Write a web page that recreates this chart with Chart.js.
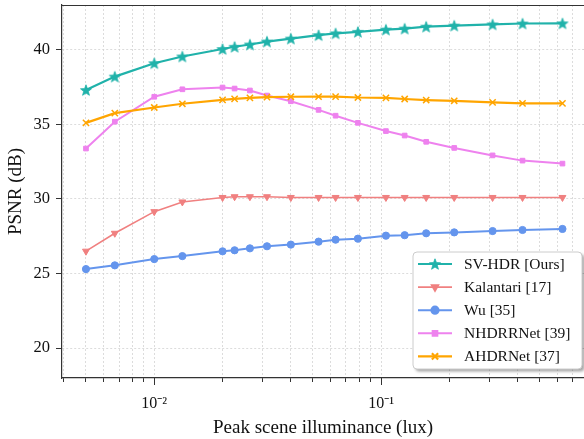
<!DOCTYPE html>
<html lang="en">
  <head>
    <meta charset="UTF-8" />
    <title>PSNR vs peak scene illuminance</title>
    <script src="https://cdn.jsdelivr.net/npm/chart.js"></script>
    <style>
      html, body { margin: 0; padding: 0; background: #fff; }
      canvas { display: block; }
    </style>
  </head>
  <body>
    <canvas id="psnrChart" width="584" height="439"></canvas>

    <script>
      // peak scene illuminance (lux), shared by all methods
      const illuminance = [0.005, 0.0067, 0.01, 0.0133, 0.02, 0.0226, 0.0264, 0.0314, 0.04, 0.053,
        0.063, 0.079, 0.105, 0.127, 0.158, 0.21, 0.31, 0.42, 0.63];

      // PSNR (dB) per method
      const svHdr = [37.3, 38.2, 39.1, 39.55, 40.05, 40.2, 40.35, 40.55, 40.75, 40.98,
        41.1, 41.2, 41.35, 41.42, 41.55, 41.62, 41.7, 41.76, 41.77];
      const kalantari = [26.5, 27.7, 29.15, 29.8, 30.1, 30.15, 30.15, 30.15, 30.1, 30.1,
        30.1, 30.1, 30.1, 30.1, 30.1, 30.1, 30.1, 30.1, 30.1];
      const wu = [25.3, 25.55, 25.97, 26.17, 26.49, 26.56, 26.69, 26.83, 26.94, 27.14,
        27.27, 27.34, 27.54, 27.57, 27.7, 27.76, 27.85, 27.92, 27.99];
      const nhdrrNet = [33.38, 35.18, 36.85, 37.35, 37.47, 37.4, 37.27, 36.93, 36.55, 35.97,
        35.58, 35.1, 34.55, 34.25, 33.83, 33.42, 32.92, 32.57, 32.37];
      const ahdrNet = [35.1, 35.75, 36.13, 36.38, 36.64, 36.71, 36.78, 36.82, 36.85, 36.86,
        36.86, 36.8, 36.77, 36.7, 36.63, 36.58, 36.47, 36.41, 36.41];

      const methodNames = ["SV-HDR [Ours]", "Kalantari [17]", "Wu [35]", "NHDRRNet [39]", "AHDRNet [37]"];

      // axis ticks
      const xTicks = [0.004, 0.005, 0.006, 0.007, 0.008, 0.009,
        0.01, 0.02, 0.03, 0.04, 0.05, 0.06, 0.07, 0.08, 0.09,
        0.1, 0.2, 0.3, 0.4, 0.5, 0.6, 0.7];
      const xMajorTicks = [0.01, 0.1];
      const xTickLabels = { 0.01: "10\u207B\u00B2", 0.1: "10\u207B\u00B9" };
      const yTicks = [20, 25, 30, 35, 40];

      const FONT = "'Liberation Serif', 'Times New Roman', serif";

      function makeStar(color, r) {
        const size = Math.ceil(r * 2 + 4);
        const c = document.createElement("canvas");
        c.width = c.height = size;
        const g = c.getContext("2d");
        const cx = size / 2, cy = size / 2 + r * 0.1;
        g.beginPath();
        for (let i = 0; i < 10; i++) {
          const rr = i % 2 ? r * 0.42 : r;
          const a = -Math.PI / 2 + (i * Math.PI) / 5;
          g.lineTo(cx + rr * Math.cos(a), cy + rr * Math.sin(a));
        }
        g.closePath();
        g.fillStyle = color;
        g.fill();
        g.lineWidth = 0.8;
        g.strokeStyle = color;
        g.stroke();
        return c;
      }

      const points = (ys) => ys.map((y, i) => ({ x: illuminance[i], y }));

      const teal = "#20b2aa";
      const starMarker = makeStar(teal, 5.8);

      const datasets = [
        { label: methodNames[0], data: points(svHdr), borderColor: teal, backgroundColor: teal,
          borderWidth: 2.2, pointStyle: starMarker, pointRadius: 5, order: 5 },
        { label: methodNames[1], data: points(kalantari), borderColor: "#f08080", backgroundColor: "#f08080",
          borderWidth: 1.6, pointStyle: "triangle", rotation: 180, pointRadius: 4, pointBorderWidth: 1, order: 4 },
        { label: methodNames[2], data: points(wu), borderColor: "#6495ed", backgroundColor: "#6495ed",
          borderWidth: 2, pointStyle: "circle", pointRadius: 3.6, pointBorderWidth: 1, order: 3 },
        { label: methodNames[3], data: points(nhdrrNet), borderColor: "#ee82ee", backgroundColor: "#ee82ee",
          borderWidth: 2, pointStyle: "rect", pointRadius: 3.3, pointBorderWidth: 1, order: 2 },
        { label: methodNames[4], data: points(ahdrNet), borderColor: "#ffa500", backgroundColor: "#ffa500",
          borderWidth: 2.2, pointStyle: "crossRot", pointRadius: 4.4, pointBorderWidth: 1.5, order: 1 },
      ];

      // top spine of the axes box + longer major ticks on the log axis
      const frameTop = {
        id: "frameTop",
        afterDraw(chart) {
          const { ctx, chartArea: a } = chart;
          const xs = chart.scales.x;
          ctx.save();
          ctx.strokeStyle = "#333";
          ctx.lineWidth = 1.2;
          ctx.beginPath();
          ctx.moveTo(a.left, a.top + 0.5);
          ctx.lineTo(a.right, a.top + 0.5);
          ctx.stroke();
          ctx.lineWidth = 1;
          xMajorTicks.forEach((v) => {
            const px = Math.round(xs.getPixelForValue(v)) + 0.5;
            ctx.beginPath();
            ctx.moveTo(px, a.bottom);
            ctx.lineTo(px, a.bottom + 7);
            ctx.stroke();
          });
          ctx.restore();
        },
      };

      // matplotlib-like legend box (line + marker samples)
      const lineLegend = {
        id: "lineLegend",
        afterDraw(chart) {
          const { ctx, chartArea: a } = chart;
          const w = 169, h = 117;
          const x0 = a.right - w - 2, y0 = a.bottom - h - 9;
          const rowH = 23.1;
          ctx.save();
          ctx.beginPath();
          ctx.roundRect(x0, y0, w, h, 4);
          ctx.shadowColor = "rgba(0,0,0,0.35)";
          ctx.shadowBlur = 3;
          ctx.shadowOffsetX = 2.5;
          ctx.shadowOffsetY = 2.5;
          ctx.fillStyle = "#fff";
          ctx.fill();
          ctx.shadowColor = "transparent";
          ctx.strokeStyle = "#cccccc";
          ctx.lineWidth = 1;
          ctx.stroke();

          chart.data.datasets.forEach((ds, i) => {
            const y = y0 + 12 + i * rowH;
            const lx = x0 + 5, rx = x0 + 39;
            ctx.strokeStyle = ds.borderColor;
            ctx.lineWidth = ds.borderWidth;
            ctx.beginPath();
            ctx.moveTo(lx, y);
            ctx.lineTo(rx, y);
            ctx.stroke();
            ctx.fillStyle = ds.backgroundColor;
            Chart.helpers.drawPoint(ctx, {
              pointStyle: ds.pointStyle,
              radius: ds.pointRadius,
              rotation: ds.rotation || 0,
              borderWidth: ds.pointBorderWidth || 1,
            }, (lx + rx) / 2, y);
            ctx.fillStyle = "#111";
            ctx.font = "15.5px " + FONT;
            ctx.textBaseline = "middle";
            ctx.textAlign = "left";
            ctx.fillText(ds.label, x0 + 51, y + 1);
          });
          ctx.restore();
        },
      };

      new Chart(document.getElementById("psnrChart"), {
        type: "line",
        data: { datasets },
        options: {
          responsive: false,
          animation: false,
          events: [],
          devicePixelRatio: 1,
          layout: { autoPadding: false, padding: { top: 5, right: 0, left: 0, bottom: 0 } },
          plugins: { legend: { display: false }, tooltip: { enabled: false } },
          elements: { line: { tension: 0 } },
          scales: {
            x: {
              type: "logarithmic",
              min: 0.00392,
              max: 0.784,
              bounds: "data",
              afterBuildTicks: (scale) => {
                scale.ticks = xTicks.map((v) => ({ value: v }));
              },
              afterFit: (scale) => {
                scale.height = 61;
                scale.paddingLeft = 0;
                scale.paddingRight = 0;
              },
              ticks: {
                autoSkip: false,
                maxRotation: 0,
                padding: 12,
                color: "#111",
                font: { family: FONT, size: 16 },
                callback: (v) => xTickLabels[v] || "",
              },
              grid: { color: "#d4d4d4", lineWidth: 0.8, tickLength: 4, tickColor: "#333", tickWidth: 1 },
              border: { color: "#333", width: 1.2, dash: [2, 2] },
              title: {
                display: true,
                text: "Peak scene illuminance (lux)",
                color: "#111",
                font: { family: FONT, size: 19 },
                padding: { top: 0, bottom: 0 },
              },
            },
            y: {
              min: 18,
              max: 43,
              bounds: "data",
              afterBuildTicks: (scale) => {
                scale.ticks = yTicks.map((v) => ({ value: v }));
              },
              afterFit: (scale) => {
                scale.width = 62;
                scale.paddingTop = 0;
                scale.paddingBottom = 0;
              },
              ticks: {
                padding: 6,
                color: "#111",
                font: { family: FONT, size: 16.5 },
              },
              grid: { color: "#d4d4d4", lineWidth: 0.8, tickLength: 6, tickColor: "#333", tickWidth: 1 },
              border: { color: "#333", width: 1.2, dash: [2, 2] },
              title: {
                display: true,
                text: "PSNR (dB)",
                color: "#111",
                font: { family: FONT, size: 19 },
                padding: { top: 5, bottom: 0 },
              },
            },
          },
        },
        plugins: [frameTop, lineLegend],
      });
    </script>
  </body>
</html>
